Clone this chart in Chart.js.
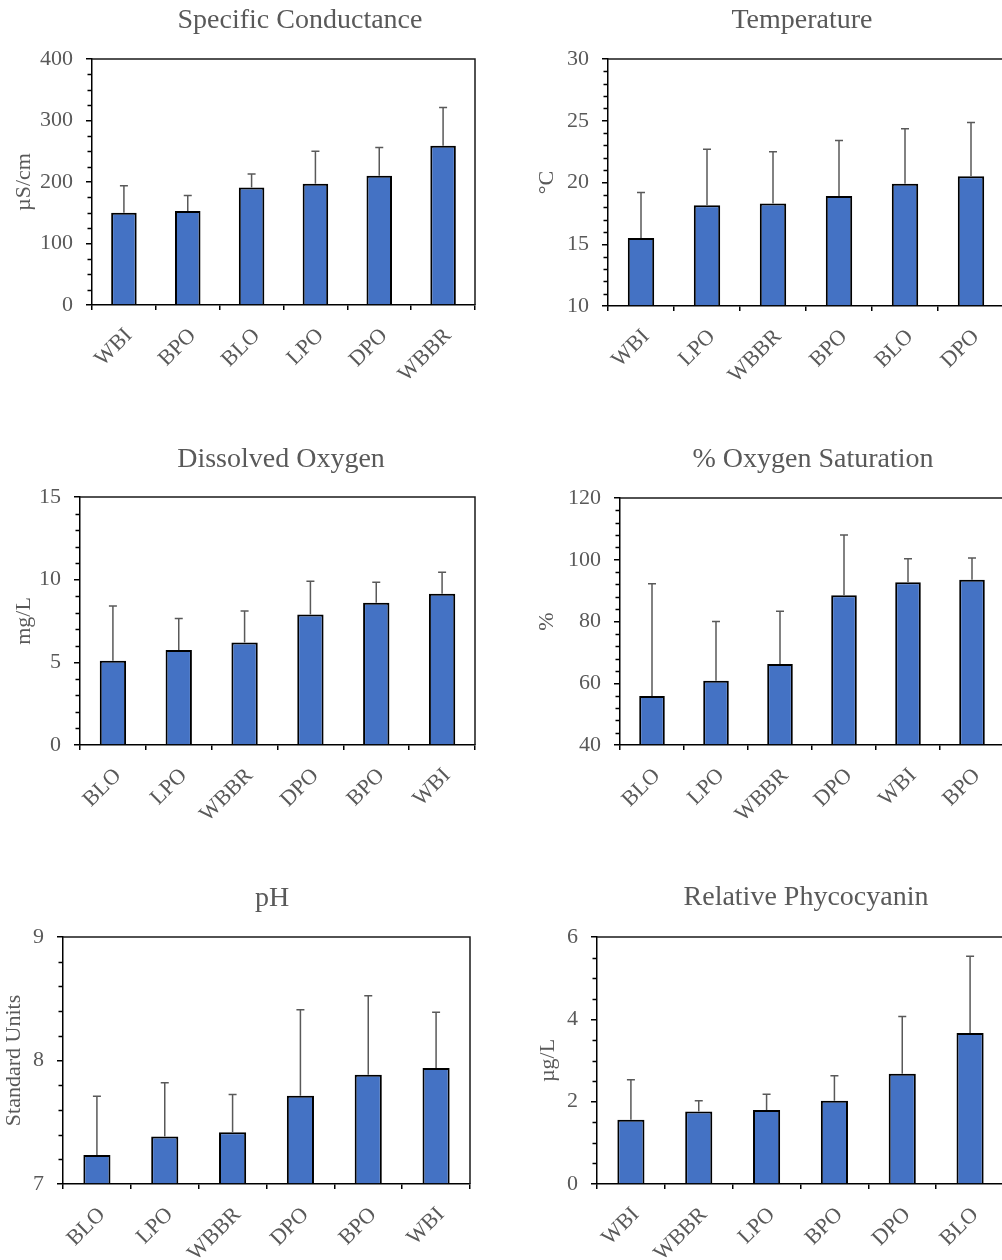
<!DOCTYPE html>
<html><head><meta charset="utf-8">
<script src="https://cdn.jsdelivr.net/npm/chart.js@4.4.1/dist/chart.umd.min.js"></script>
<style>
html,body{margin:0;padding:0;background:#fff;overflow:hidden;width:1002px;height:1260px;position:relative}
canvas{position:absolute;display:block}
</style></head><body>
<canvas id="c1"></canvas><canvas id="c2"></canvas><canvas id="c3"></canvas>
<canvas id="c4"></canvas><canvas id="c5"></canvas><canvas id="c6"></canvas>
<script>
// ---------- DATA ----------
const scCats = ['WBI','BPO','BLO','LPO','DPO','WBBR'];
const scMeans = [150,153,191,197,210,259];
const scSD = [44,25,22,53,46,62];

const tCats = ['WBI','LPO','WBBR','BPO','BLO','DPO'];
const tMeans = [15.5,18.15,18.3,18.9,19.9,20.5];
const tSD = [3.7,4.55,4.2,4.5,4.45,4.35];

const doCats = ['BLO','LPO','WBBR','DPO','BPO','WBI'];
const doMeans = [5.1,5.75,6.2,7.9,8.6,9.15];
const doSD = [3.3,1.9,1.9,2.0,1.25,1.3];

const osCats = ['BLO','LPO','WBBR','DPO','WBI','BPO'];
const osMeans = [55.9,60.8,66.2,88.5,92.7,93.5];
const osSD = [36.3,19.2,17.1,19.5,7.6,7.1];

const phCats = ['BLO','LPO','WBBR','DPO','BPO','WBI'];
const phMeans = [7.235,7.385,7.42,7.715,7.885,7.94];
const phSD = [0.475,0.435,0.305,0.695,0.64,0.45];

const pcCats = ['WBI','WBBR','LPO','BPO','DPO','BLO'];
const pcMeans = [1.56,1.76,1.8,2.02,2.68,3.67];
const pcSD = [0.97,0.26,0.38,0.61,1.39,1.86];

// axis ranges: [min, max, major step, minor step]
const scAxis = [0,400,100,25];
const tAxis = [10,30,5,1];
const doAxis = [0,15,5,1];
const osAxis = [40,120,20,4];
const phAxis = [7,9,1,0.2];
const pcAxis = [0,6,2,0.5];

const titles = ['Specific Conductance','Temperature','Dissolved Oxygen','% Oxygen Saturation','pH','Relative Phycocyanin'];
const yTitles = ['µS/cm','°C','mg/L','%','Standard Units','µg/L'];

// ---------- LAYOUT / STYLE ----------
const FONT = '"Liberation Serif", "Times New Roman", serif';
const GRAY = '#595959';
const BAR = '#4472C4';

const specs = [
  {id:'c1', cats:scCats, vals:scMeans, err:scSD, axis:scAxis, title:titles[0], yTitle:yTitles[0],
   box:[0,0,500,420], area:[92,475,59,305], tpos:[300,21], ytx:24},
  {id:'c2', cats:tCats, vals:tMeans, err:tSD, axis:tAxis, title:titles[1], yTitle:yTitles[1],
   box:[500,0,504,420], area:[608,1004,59,306], tpos:[802,21], ytx:547},
  {id:'c3', cats:doCats, vals:doMeans, err:doSD, axis:doAxis, title:titles[2], yTitle:yTitles[2],
   box:[0,440,500,420], area:[80,475,497,745], tpos:[281,460], ytx:24},
  {id:'c4', cats:osCats, vals:osMeans, err:osSD, axis:osAxis, title:titles[3], yTitle:yTitles[3],
   box:[500,440,504,420], area:[620,1004,498,745], tpos:[813,460], ytx:547},
  {id:'c5', cats:phCats, vals:phMeans, err:phSD, axis:phAxis, title:titles[4], yTitle:yTitles[4],
   box:[0,880,500,380], area:[63,470,937,1184], tpos:[272,899], ytx:14},
  {id:'c6', cats:pcCats, vals:pcMeans, err:pcSD, axis:pcAxis, title:titles[5], yTitle:yTitles[5],
   box:[500,880,504,380], area:[597,1004,937,1184], tpos:[806,898], ytx:548}
];

const extras = {
  id:'extras',
  afterDatasetsDraw(chart, args, o) {
    const {ctx, chartArea:{left,right,top,bottom}, scales:{x,y}} = chart;
    const meta = chart.getDatasetMeta(0);
    const ds = chart.data.datasets[0];
    ctx.save();
    // error bars (upper only)
    ctx.strokeStyle = GRAY; ctx.lineWidth = 1.5;
    meta.data.forEach((bar,i) => {
      const v = ds.data[i], e = o.err[i];
      const y0 = y.getPixelForValue(v), y1 = y.getPixelForValue(v+e);
      ctx.beginPath();
      ctx.moveTo(bar.x, y0); ctx.lineTo(bar.x, y1);
      ctx.moveTo(bar.x-4, y1); ctx.lineTo(bar.x+4, y1);
      ctx.stroke();
    });
    // plot frame top / right
    ctx.strokeStyle = '#1a1a1a'; ctx.lineWidth = 1.5;
    ctx.beginPath();
    ctx.moveTo(left, top); ctx.lineTo(right, top); ctx.lineTo(right, bottom);
    ctx.stroke();
    // minor ticks
    ctx.strokeStyle = '#000'; ctx.lineWidth = 1.5;
    const [mn,mx,maj,mi] = o.axis;
    const n = Math.round((mx-mn)/mi);
    ctx.beginPath();
    for (let k=1;k<n;k++) {
      const v = mn + k*mi;
      if (Math.abs((v-mn)/maj - Math.round((v-mn)/maj)) < 1e-6) continue;
      const py = Math.round(y.getPixelForValue(v)) + 0.5;
      ctx.moveTo(left-4.5, py); ctx.lineTo(left, py);
    }
    ctx.stroke();
    // title
    ctx.fillStyle = GRAY;
    ctx.font = '28px ' + FONT;
    ctx.textAlign = 'center'; ctx.textBaseline = 'middle';
    ctx.fillText(o.title, o.tx, o.ty);
    ctx.restore();
  }
};

specs.forEach(s => {
  const cv = document.getElementById(s.id);
  const [cl,ct,cw,ch] = s.box;
  const [al,ar,at,ab] = s.area;
  cv.width = cw; cv.height = ch;
  cv.style.left = cl+'px'; cv.style.top = ct+'px';
  cv.style.width = cw+'px'; cv.style.height = ch+'px';
  const [mn,mx,maj,mi] = s.axis;
  const yFont = 22, lh = 1.2;
  new Chart(cv, {
    type:'bar',
    data:{labels:s.cats, datasets:[{data:s.vals, base:mn, backgroundColor:BAR, borderColor:'#000',
      borderWidth:2, borderSkipped:'start', barPercentage:0.4, categoryPercentage:1}]},
    options:{
      responsive:false, animation:false, devicePixelRatio:1,
      layout:{padding:{top:at-ct, right:(cl+cw)-ar, bottom:0, left:0}},
      plugins:{legend:{display:false}, tooltip:{enabled:false}, title:{display:false},
        extras:{err:s.err, axis:s.axis, title:s.title, tx:s.tpos[0]-cl, ty:s.tpos[1]-ct}},
      scales:{
        x:{
          grid:{offset:true, drawOnChartArea:false, drawTicks:true, tickLength:5, color:'#000', lineWidth:1.5},
          border:{display:true, color:'#000', width:1.5},
          ticks:{color:GRAY, font:{family:FONT, size:22}, minRotation:45, maxRotation:45, autoSkip:false,
            padding:13, labelOffset:5},
          afterFit(sc){ sc.height = (ct+ch)-ab; }
        },
        y:{
          min:mn, max:mx,
          ticks:{stepSize:maj, color:GRAY, font:{family:FONT, size:22}, padding:13,
            callback:(v)=> String(Math.round(v*1000)/1000)},
          grid:{drawOnChartArea:false, drawTicks:true, tickLength:6, color:'#000', lineWidth:1.5},
          border:{display:true, color:'#000', width:1.5},
          title:{display:true, text:s.yTitle, color:GRAY, font:{family:FONT, size:yFont, lineHeight:lh},
            padding:{top:(s.ytx-cl) - yFont*lh/2, bottom:0}},
          afterFit(sc){ sc.width = al-cl; }
        }
      }
    },
    plugins:[extras]
  });
});
</script>
</body></html>
